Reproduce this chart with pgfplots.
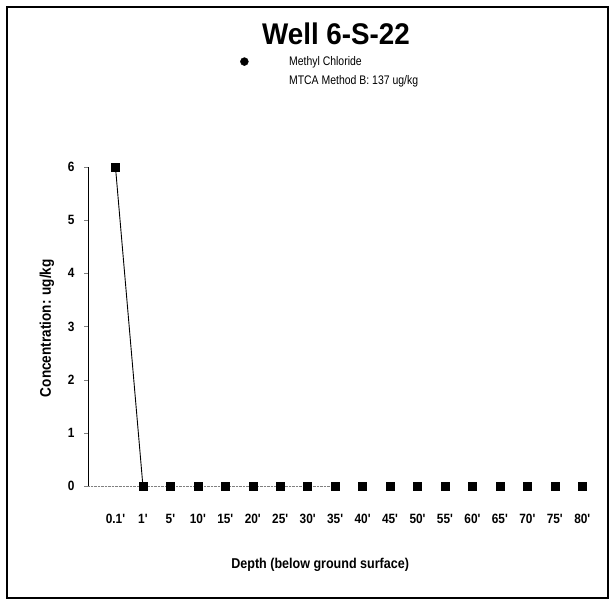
\documentclass[border=0pt]{standalone}
\usepackage{fontspec}
\setmainfont{Liberation Sans}
\newfontfamily\nar[FakeStretch=0.88]{Liberation Sans}
\newfontfamily\lnar[FakeStretch=0.84]{Liberation Sans}
\newfontfamily\tnar[FakeStretch=0.93]{Liberation Sans}
\usepackage{pgfplots}
\pgfplotsset{compat=1.18}
\begin{document}
\begin{tikzpicture}[x=1bp,y=1bp]
\useasboundingbox (0,0) rectangle (614,605);
\draw[line width=1.1bp] (7,7) rectangle (608,598);
\node[font=\tnar\bfseries\fontsize{30}{30}\selectfont] at (336,571) {Well 6-S-22};
\begin{axis}[
  at={(88bp,119bp)}, anchor=south west,
  scale only axis, width=508bp, height=319bp,
  xmin=-1, xmax=17.5, ymin=0, ymax=6,
  axis y line=left, axis x line=bottom,
  axis line style={-},
  x axis line style={draw=none},
  xtick={0,...,17},
  xticklabels={0.1',1',5',10',15',20',25',30',35',40',45',50',55',60',65',70',75',80'},
  xtick style={draw=none},
  ytick={0,...,6},
  tick align=outside, major tick length=4bp,
  /pgf/number format/assume math mode=true,
  tick label style={font=\nar\bfseries\fontsize{13.5}{13.5}\selectfont},
  xticklabel style={yshift=-21bp},
  yticklabel style={xshift=-6bp},
  xlabel={Depth (below ground surface)},
  ylabel={Concentration: ug/kg},
  xlabel style={font=\nar\bfseries\fontsize{14.3}{14.3}\selectfont,
    at={(axis description cs:0.457,-0.248)}, anchor=center},
  ylabel style={font=\nar\bfseries\fontsize{15.5}{15.5}\selectfont,
    at={(axis description cs:-0.081,0.495)}, anchor=center},
  legend style={draw=none, fill=none, at={(0.29,1.36)}, anchor=north west,
    font=\lnar\fontsize{12.5}{12.5}\selectfont, row sep=5bp,
    /tikz/every even column/.append style={column sep=0bp}},
  legend cell align=left,
  clip=false,
]
\addplot[gray, densely dotted, forget plot] coordinates {(-1,0) (8,0)};
\addplot[black, line width=0.9bp, forget plot] coordinates {(0,6) (1,0)};
\addplot[only marks, mark=square*, mark size=4bp, black, forget plot] coordinates {
  (0,6) (1,0) (2,0) (3,0) (4,0) (5,0) (6,0) (7,0) (8,0) (9,0)
  (10,0) (11,0) (12,0) (13,0) (14,0) (15,0) (16,0) (17,0)};
\addlegendimage{legend image code/.code={\fill[black] (0.2cm,0) circle (4bp); \path (1.7cm,0);}}
\addlegendentry{Methyl Chloride}
\addlegendimage{legend image code/.code={\path (0,0) (1.7cm,0);}}
\addlegendentry{MTCA Method B: 137 ug/kg}
\end{axis}
\end{tikzpicture}
\end{document}
